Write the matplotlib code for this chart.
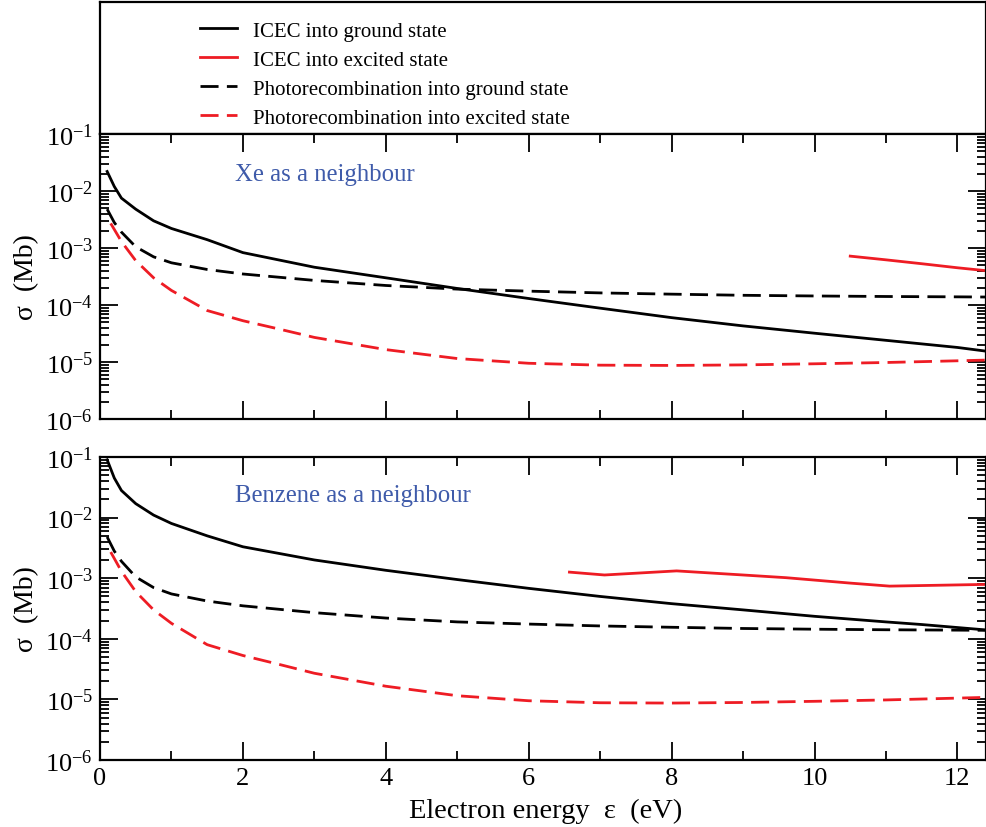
import matplotlib
matplotlib.use("Agg")
import matplotlib.pyplot as plt
from matplotlib.ticker import LogLocator, MultipleLocator, FuncFormatter, NullFormatter
from matplotlib.lines import Line2D
import numpy as np

plt.rcParams['font.family'] = ['Liberation Serif', 'DejaVu Serif']
plt.rcParams['mathtext.fontset'] = 'custom'
plt.rcParams['mathtext.rm'] = 'Liberation Serif'
plt.rcParams['mathtext.it'] = 'Liberation Serif:italic'

RED = '#EE1C24'
BLUE = '#3F5BAA'

# ---- data ----
# ICEC into ground state, Xe neighbour
xe_icec_g_x = [0.1, 0.2, 0.3, 0.5, 0.75, 1.0, 1.5, 2.0, 3.0, 4.0, 5.0, 6.0, 7.0, 8.0, 9.0, 10.0, 11.0, 12.0, 12.4]
xe_icec_g_y = [2.2e-2, 1.2e-2, 7.5e-3, 4.8e-3, 3.0e-3, 2.2e-3, 1.4e-3, 8.3e-4, 4.6e-4, 3.0e-4, 1.95e-4,
               1.3e-4, 8.8e-5, 6.0e-5, 4.3e-5, 3.2e-5, 2.4e-5, 1.8e-5, 1.55e-5]
# ICEC into excited state, Xe neighbour
xe_icec_e_x = [10.5, 11.0, 11.5, 12.0, 12.4]
xe_icec_e_y = [7.2e-4, 6.2e-4, 5.3e-4, 4.5e-4, 4.0e-4]

# ICEC into ground state, benzene neighbour
bz_icec_g_x = [0.1, 0.2, 0.3, 0.5, 0.75, 1.0, 1.5, 2.0, 3.0, 4.0, 5.0, 6.0, 7.0, 8.0, 9.0, 10.0, 11.0, 11.5, 12.4]
bz_icec_g_y = [9.0e-2, 4.5e-2, 2.8e-2, 1.7e-2, 1.1e-2, 8.0e-3, 5.0e-3, 3.3e-3, 2.0e-3, 1.35e-3, 9.5e-4,
               6.8e-4, 5.0e-4, 3.8e-4, 3.0e-4, 2.35e-4, 1.9e-4, 1.72e-4, 1.4e-4]
# ICEC into excited state, benzene neighbour
bz_icec_e_x = [6.57, 7.06, 8.07, 9.0, 9.6, 10.5, 11.05, 12.4]
bz_icec_e_y = [1.26e-3, 1.13e-3, 1.32e-3, 1.13e-3, 1.02e-3, 8.3e-4, 7.4e-4, 7.9e-4]

# Photorecombination into ground state
pr_g_x = [0.1, 0.2, 0.3, 0.5, 0.75, 1.0, 1.5, 2.0, 3.0, 4.0, 5.0, 6.0, 7.0, 8.0, 9.0, 10.0, 11.0, 12.0, 12.4]
pr_g_y = [4.8e-3, 2.8e-3, 1.9e-3, 1.05e-3, 7.0e-4, 5.5e-4, 4.2e-4, 3.5e-4, 2.7e-4, 2.2e-4, 1.9e-4,
          1.75e-4, 1.63e-4, 1.55e-4, 1.48e-4, 1.44e-4, 1.41e-4, 1.39e-4, 1.38e-4]
# Photorecombination into excited state
pr_e_x = [0.15, 0.3, 0.5, 0.75, 1.0, 1.5, 2.0, 2.5, 3.0, 4.0, 5.0, 6.0, 7.0, 8.0, 9.0, 10.0, 11.0, 12.0, 12.4]
pr_e_y = [2.7e-3, 1.3e-3, 6.0e-4, 3.0e-4, 1.8e-4, 8.0e-5, 5.3e-5, 3.8e-5, 2.7e-5, 1.65e-5, 1.15e-5,
          9.5e-6, 8.8e-6, 8.7e-6, 8.9e-6, 9.3e-6, 9.8e-6, 1.05e-5, 1.08e-5]

labels = ['ICEC into ground state', 'ICEC into excited state',
          'Photorecombination into ground state', 'Photorecombination into excited state']
panel_titles = ['Xe as a neighbour', 'Benzene as a neighbour']

# ---- figure ----
W, H = 987, 828
fig = plt.figure(figsize=(W / 100, H / 100), dpi=100)

def rect(x0, y0, x1, y1):
    return [x0 / W, 1 - y1 / H, (x1 - x0) / W, (y1 - y0) / H]

ax_leg = fig.add_axes(rect(100, 3, 986, 135))
ax1 = fig.add_axes(rect(100, 135, 986, 420))
ax2 = fig.add_axes(rect(100, 458, 986, 761))

LW = 2.0
DASH = (0, (6.5, 3.0))

for ax in (ax_leg, ax1, ax2):
    for s in ax.spines.values():
        s.set_linewidth(1.6)

ax_leg.set_xticks([])
ax_leg.set_yticks([])
handles = [Line2D([], [], color='black', lw=LW),
           Line2D([], [], color=RED, lw=LW),
           Line2D([], [], color='black', lw=LW, linestyle=DASH),
           Line2D([], [], color=RED, lw=LW, linestyle=DASH)]
ax_leg.legend(handles, labels, loc='upper left', bbox_to_anchor=(0.113, 0.855),
              frameon=False, fontsize=15, handlelength=1.78, handletextpad=0.77,
              labelspacing=0.45, borderaxespad=0, borderpad=0)

def fmt(v, pos):
    e = int(round(np.log10(v)))
    return r'$\mathregular{10^{%d}}$' % e

panels = [(ax1, xe_icec_g_x, xe_icec_g_y, xe_icec_e_x, xe_icec_e_y, panel_titles[0], 0.858),
          (ax2, bz_icec_g_x, bz_icec_g_y, bz_icec_e_x, bz_icec_e_y, panel_titles[1], 0.875)]

for ax, gx, gy, ex, ey, title, ty in panels:
    ax.plot(gx, gy, color='black', lw=LW)
    ax.plot(ex, ey, color=RED, lw=LW)
    ax.plot(pr_g_x, pr_g_y, color='black', lw=LW, linestyle=DASH)
    ax.plot(pr_e_x, pr_e_y, color=RED, lw=LW, linestyle=DASH)
    ax.set_yscale('log')
    ax.set_ylim(1e-6, 1e-1)
    ax.set_xlim(0, 12.4)
    ax.xaxis.set_major_locator(MultipleLocator(2))
    ax.xaxis.set_minor_locator(MultipleLocator(1))
    ax.yaxis.set_major_locator(LogLocator(base=10, numticks=10))
    ax.yaxis.set_minor_locator(LogLocator(base=10, subs=np.arange(2, 10), numticks=20))
    ax.yaxis.set_major_formatter(FuncFormatter(fmt))
    ax.yaxis.set_minor_formatter(NullFormatter())
    ax.tick_params(which='both', direction='in', top=True, right=True, width=1.3)
    ax.tick_params(which='major', length=13, labelsize=19, pad=5)
    ax.tick_params(which='minor', length=6.5)
    ax.set_ylabel('σ  (Mb)', fontsize=20, labelpad=4)
    ax.text(0.152, ty, title, transform=ax.transAxes, color=BLUE, fontsize=17.8,
            ha='left', va='center')

ax1.tick_params(labelbottom=False)
ax2.set_xlabel('Electron energy  ε  (eV)', fontsize=20.5)
ax2.xaxis.set_label_coords(0.503, -0.125)

fig.savefig('out.png', dpi=100)
